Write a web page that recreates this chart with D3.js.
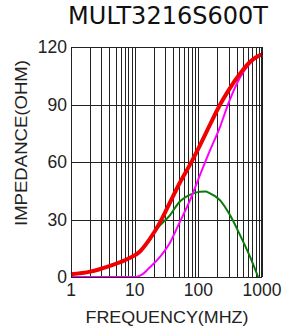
<!DOCTYPE html>
<html>
<head>
<meta charset="utf-8">
<script src="https://cdn.jsdelivr.net/npm/d3@7"></script>
<style>
  body { margin: 0; background: #fff; }
  svg { display: block; }
</style>
</head>
<body>
<div id="chart"></div>
<script>
// impedance vs frequency
const freqZ = [1, 2, 4, 8, 12, 17, 25, 36, 50, 75, 100, 150, 220, 300, 450, 650, 900, 1000];
const zVals = [1.4, 2.8, 5.7, 9.6, 13.2, 19.5, 28.5, 39, 48.5, 59, 67, 79, 90, 97.5, 106, 112.3, 115.5, 116];

const freqX = [1, 5, 10.5, 13, 17, 25, 36, 50, 75, 100, 150, 220, 300, 450, 650, 900, 1000];
const xVals = [0, 0, 0, 1.2, 4.8, 10.5, 18, 28, 40.5, 51, 65.5, 78.5, 91, 104, 111.5, 115.3, 116];

const freqR = [1, 2, 4, 8, 12, 17, 23, 36, 50, 75, 106, 130, 150, 220, 314, 450, 650, 870];
const rVals = [1.4, 2.8, 5.7, 9.6, 13.2, 19, 25.5, 32.3, 39, 43, 44.5, 44.6, 43.8, 40, 32.3, 22, 10.5, 0];

const yTicks = [0, 30, 60, 90, 120];
const xLabelTicks = [1, 10, 100, 1000];

const width = 288, height = 332;
const margin = { top: 47, right: 26, bottom: 55, left: 71 };
const innerW = width - margin.left - margin.right;
const innerH = height - margin.top - margin.bottom;

const font = "Liberation Sans, Arial, sans-serif";

const svg = d3.select("#chart").append("svg")
    .attr("width", width)
    .attr("height", height);

// title
svg.append("text")
    .attr("x", 168)
    .attr("y", 24)
    .attr("text-anchor", "middle")
    .attr("font-family", "DejaVu Sans, sans-serif")
    .attr("font-size", 24)
    .attr("fill", "#111")
    .text("MULT3216S600T");

const g = svg.append("g")
    .attr("transform", "translate(" + margin.left + "," + margin.top + ")");

const x = d3.scaleLog().domain([1, 1000]).range([0, innerW]);
const y = d3.scaleLinear().domain([0, 120]).range([innerH, 0]);

// vertical grid: every 1..9 per decade
let gridX = [];
for (let d = 1; d <= 100; d *= 10) {
    for (let k = 1; k <= 9; k++) gridX.push(d * k);
}
gridX.push(1000);

g.selectAll(".vgrid")
    .data(gridX)
    .enter().append("line")
    .attr("class", "vgrid")
    .attr("x1", d => Math.round(x(d)) + 0.5)
    .attr("x2", d => Math.round(x(d)) + 0.5)
    .attr("y1", 0)
    .attr("y2", innerH)
    .attr("stroke", "#222")
    .attr("stroke-width", 1);

g.selectAll(".hgrid")
    .data(yTicks)
    .enter().append("line")
    .attr("class", "hgrid")
    .attr("x1", 0)
    .attr("x2", innerW)
    .attr("y1", d => Math.round(y(d)) + 0.5)
    .attr("y2", d => Math.round(y(d)) + 0.5)
    .attr("stroke", "#222")
    .attr("stroke-width", 1);

// y axis labels
g.selectAll(".ylab")
    .data(yTicks)
    .enter().append("text")
    .attr("x", -4)
    .attr("y", d => y(d))
    .attr("dy", "0.36em")
    .attr("text-anchor", "end")
    .attr("font-family", font)
    .attr("font-size", 17.5)
    .attr("fill", "#222")
    .text(d => d);

// x axis labels
g.selectAll(".xlab")
    .data(xLabelTicks)
    .enter().append("text")
    .attr("x", d => x(d))
    .attr("y", innerH + 19)
    .attr("text-anchor", "middle")
    .attr("font-family", font)
    .attr("font-size", 17.5)
    .attr("fill", "#222")
    .text(d => d);

// axis titles
svg.append("text")
    .attr("x", 167)
    .attr("y", 323)
    .attr("text-anchor", "middle")
    .attr("font-family", font)
    .attr("font-size", 16.5)
    .attr("textLength", 163)
    .attr("lengthAdjust", "spacingAndGlyphs")
    .attr("fill", "#222")
    .text("FREQUENCY(MHZ)");

svg.append("text")
    .attr("transform", "translate(27,143) rotate(-90)")
    .attr("text-anchor", "middle")
    .attr("font-family", font)
    .attr("font-size", 16.5)
    .attr("textLength", 166)
    .attr("lengthAdjust", "spacingAndGlyphs")
    .attr("fill", "#222")
    .text("IMPEDANCE(OHM)");

const line = d3.line()
    .x(d => x(d[0]))
    .y(d => y(d[1]))
    .curve(d3.curveMonotoneX);

g.append("path")
    .datum(d3.zip(freqR, rVals))
    .attr("d", line)
    .attr("fill", "none")
    .attr("stroke", "#0a7a0a")
    .attr("stroke-width", 2);

g.append("path")
    .datum(d3.zip(freqX, xVals))
    .attr("d", line)
    .attr("fill", "none")
    .attr("stroke", "#ff00ff")
    .attr("stroke-width", 2);

g.append("path")
    .datum(d3.zip(freqZ, zVals))
    .attr("d", line)
    .attr("fill", "none")
    .attr("stroke", "#f00000")
    .attr("stroke-width", 4);

// plot border
g.append("rect")
    .attr("x", 0.5)
    .attr("y", 0.5)
    .attr("width", innerW - 1)
    .attr("height", innerH)
    .attr("fill", "none")
    .attr("stroke", "#222")
    .attr("stroke-width", 1);
</script>
</body>
</html>
